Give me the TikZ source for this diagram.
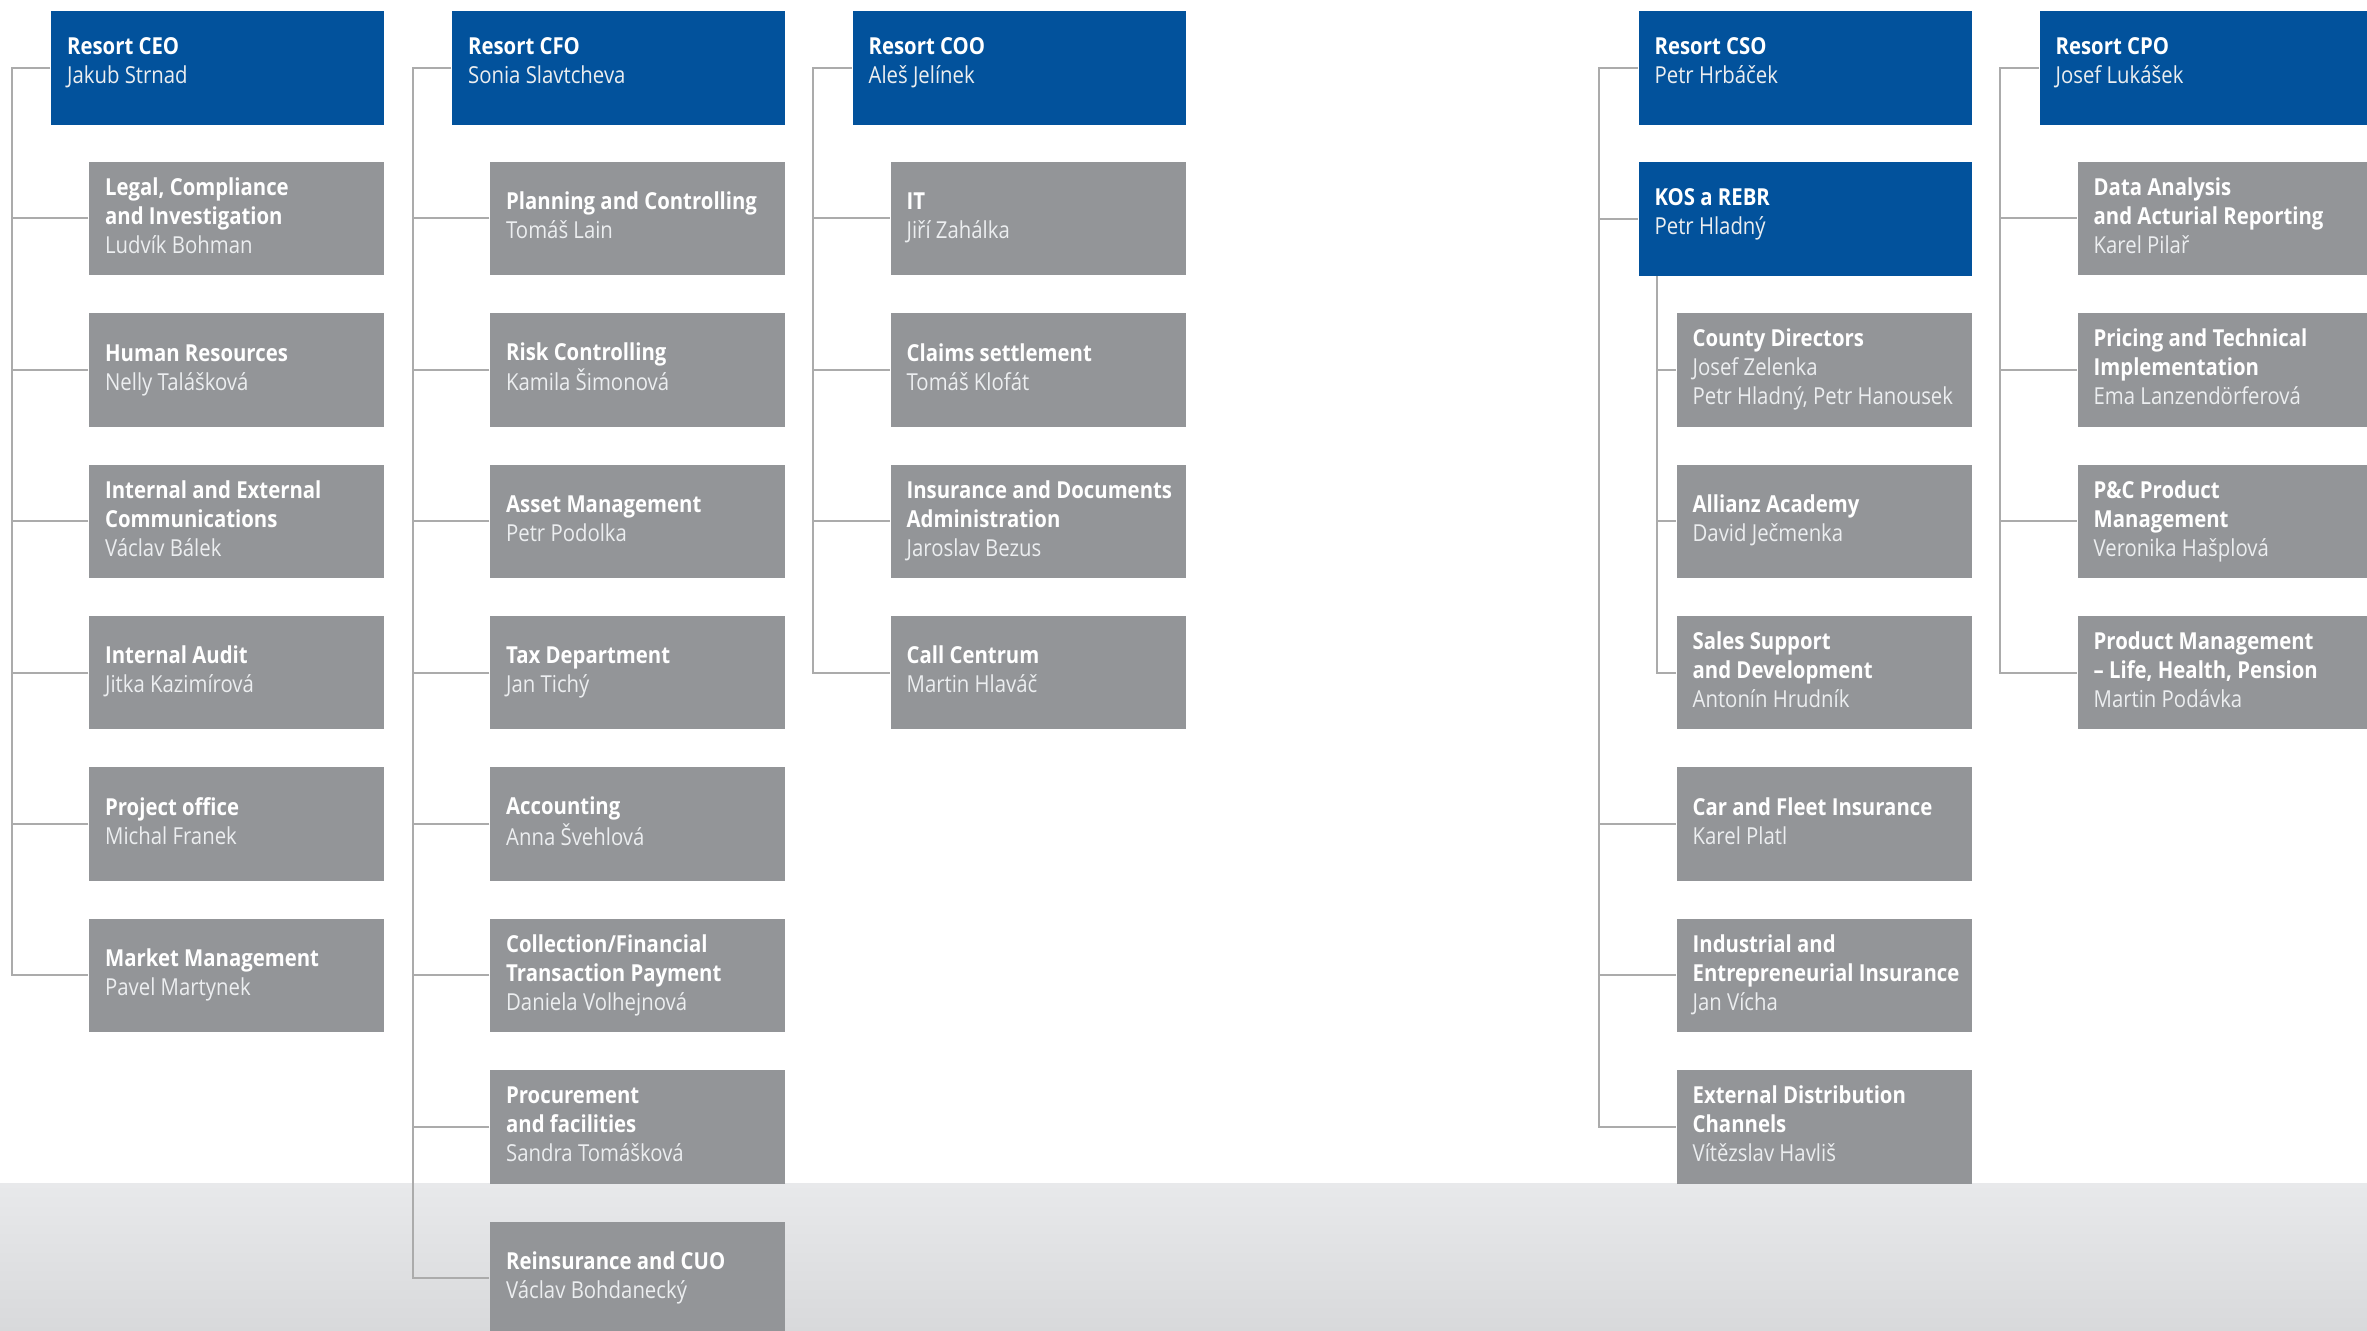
\documentclass[tikz,border=0pt]{standalone}
\usepackage{fontspec}
\setmainfont{Open Sans}[FakeStretch=0.87]
\definecolor{allblue}{HTML}{02529C}
\definecolor{boxgray}{HTML}{939598}
\definecolor{linegray}{HTML}{ABABAB}
\definecolor{namecol}{HTML}{ECEEF0}
\definecolor{bandtop}{HTML}{E8E9EB}
\definecolor{bandbot}{HTML}{D8D9DB}
\newcommand\pn[1]{{\color{namecol}#1}}
\newcommand\cell[1]{\makebox[2.63cm][l]{\begin{tabular}{@{}l@{}}#1\end{tabular}}}
\begin{document}
\begin{tikzpicture}[x=0.01cm,y=-0.01cm,
  txtfont/.style={font=\fontsize{6.65}{8.25}\selectfont},
  box/.style={rectangle, fill=boxgray, minimum width=2.95cm, minimum height=1.135cm,
    inner xsep=0.16cm, inner ysep=0pt, anchor=north east, txtfont, text=white},
  headbox/.style={rectangle, fill=allblue, minimum width=3.33cm, minimum height=1.14cm,
    inner sep=0pt, anchor=north east},
  headtxt/.style={inner sep=0pt, anchor=north west, align=left, txtfont, text=white},
  conn/.style={draw=linegray, line width=0.02cm}]
\useasboundingbox (0,0) rectangle (2367,1331);
\clip (0,0) rectangle (2367,1331);
\fill[white] (0,0) rectangle (2367,1331);
\shade[top color=bandtop, bottom color=bandbot] (0,1183) rectangle (2367,1331);

% ---------- CEO ----------
\node[headbox] (ceo) at (385,10) {};
\node[headtxt] (ceot) at ([xshift=0.16cm,yshift=-0.27cm]ceo.north west) {\textbf{Resort CEO}\\\pn{Jakub Strnad}};
\node[box] (ceo1) at (385,161) {\cell{\textbf{Legal, Compliance}\\\textbf{and Investigation}\\\pn{Ludvík Bohman}}};
\node[box] (ceo2) at (385,312.4) {\cell{\textbf{Human Resources}\\\pn{Nelly Talášková}}};
\node[box] (ceo3) at (385,463.8) {\cell{\textbf{Internal and External}\\\textbf{Communications}\\\pn{Václav Bálek}}};
\node[box] (ceo4) at (385,615.2) {\cell{\textbf{Internal Audit}\\\pn{Jitka Kazimírová}}};
\node[box] (ceo5) at (385,766.6) {\cell{\textbf{Project office}\\\pn{Michal Franek}}};
\node[box] (ceo6) at (385,918) {\cell{\textbf{Market Management}\\\pn{Pavel Martynek}}};
\coordinate (ceoV) at ([xshift=-0.385cm]ceo.west);
\draw[conn] (ceo.west) -- (ceoV) |- (ceo6.west);
\foreach \i in {1,...,5} \draw[conn] (ceo\i.west) -- (ceo\i.west -| ceoV);

% ---------- CFO ----------
\node[headbox] (cfo) at (786,10) {};
\node[headtxt] (cfot) at ([xshift=0.16cm,yshift=-0.27cm]cfo.north west) {\textbf{Resort CFO}\\\pn{Sonia Slavtcheva}};
\node[box] (cfo1) at (786,161) {\cell{\textbf{Planning and Controlling}\\\pn{Tomáš Lain}}};
\node[box] (cfo2) at (786,312.4) {\cell{\textbf{Risk Controlling}\\\pn{Kamila Šimonová}}};
\node[box] (cfo3) at (786,463.8) {\cell{\textbf{Asset Management}\\\pn{Petr Podolka}}};
\node[box] (cfo4) at (786,615.2) {\cell{\textbf{Tax Department}\\\pn{Jan Tichý}}};
\node[box] (cfo5) at (786,766.6) {\cell{\textbf{Accounting}\\\pn{Anna Švehlová}}};
\node[box] (cfo6) at (786,918) {\cell{\textbf{Collection/Financial}\\\textbf{Transaction Payment}\\\pn{Daniela Volhejnová}}};
\node[box] (cfo7) at (786,1069.4) {\cell{\textbf{Procurement}\\\textbf{and facilities}\\\pn{Sandra Tomášková}}};
\node[box] (cfo8) at (786,1220.8) {\cell{\textbf{Reinsurance and CUO}\\\pn{Václav Bohdanecký}}};
\coordinate (cfoV) at ([xshift=-0.385cm]cfo.west);
\draw[conn] (cfo.west) -- (cfoV) |- (cfo8.west);
\foreach \i in {1,...,7} \draw[conn] (cfo\i.west) -- (cfo\i.west -| cfoV);

% ---------- COO ----------
\node[headbox] (coo) at (1186.5,10) {};
\node[headtxt] (coot) at ([xshift=0.16cm,yshift=-0.27cm]coo.north west) {\textbf{Resort COO}\\\pn{Aleš Jelínek}};
\node[box] (coo1) at (1186.5,161) {\cell{\textbf{IT}\\\pn{Jiří Zahálka}}};
\node[box] (coo2) at (1186.5,312.4) {\cell{\textbf{Claims settlement}\\\pn{Tomáš Klofát}}};
\node[box] (coo3) at (1186.5,463.8) {\cell{\textbf{Insurance and Documents}\\\textbf{Administration}\\\pn{Jaroslav Bezus}}};
\node[box] (coo4) at (1186.5,615.2) {\cell{\textbf{Call Centrum}\\\pn{Martin Hlaváč}}};
\coordinate (cooV) at ([xshift=-0.385cm]coo.west);
\draw[conn] (coo.west) -- (cooV) |- (coo4.west);
\foreach \i in {1,...,3} \draw[conn] (coo\i.west) -- (coo\i.west -| cooV);

% ---------- CSO ----------
\node[headbox] (cso) at (1972.5,10) {};
\node[headtxt] (csot) at ([xshift=0.16cm,yshift=-0.27cm]cso.north west) {\textbf{Resort CSO}\\\pn{Petr Hrbáček}};
\node[headbox] (kos) at (1972.5,161) {};
\node[headtxt] (kost) at ([xshift=0.16cm,yshift=-0.27cm]kos.north west) {\textbf{KOS a REBR}\\\pn{Petr Hladný}};
\node[box] (cso1) at (1972.5,312.4) {\cell{\textbf{County Directors}\\\pn{Josef Zelenka}\\\pn{Petr Hladný, Petr Hanousek}}};
\node[box] (cso2) at (1972.5,463.8) {\cell{\textbf{Allianz Academy}\\\pn{David Ječmenka}}};
\node[box] (cso3) at (1972.5,615.2) {\cell{\textbf{Sales Support}\\\textbf{and Development}\\\pn{Antonín Hrudník}}};
\node[box] (cso4) at (1972.5,766.6) {\cell{\textbf{Car and Fleet Insurance}\\\pn{Karel Platl}}};
\node[box] (cso5) at (1972.5,918) {\cell{\textbf{Industrial and}\\\textbf{Entrepreneurial Insurance}\\\pn{Jan Vícha}}};
\node[box] (cso6) at (1972.5,1069.4) {\cell{\textbf{External Distribution}\\\textbf{Channels}\\\pn{Vítězslav Havliš}}};
\coordinate (csoV) at ([xshift=-0.385cm]cso.west);
\draw[conn] (cso.west) -- (csoV) |- (cso6.west);
\draw[conn] (kos.west) -- (kos.west -| csoV);
\foreach \i in {4,5} \draw[conn] (cso\i.west) -- (cso\i.west -| csoV);
\coordinate (kosV) at ([xshift=0.19cm]kos.south west);
\draw[conn] (kosV) |- (cso3.west);
\foreach \i in {1,2} \draw[conn] (cso\i.west) -- (cso\i.west -| kosV);

% ---------- CPO ----------
\node[headbox] (cpo) at (2373.5,10) {};
\node[headtxt] (cpot) at ([xshift=0.16cm,yshift=-0.27cm]cpo.north west) {\textbf{Resort CPO}\\\pn{Josef Lukášek}};
\node[box] (cpo1) at (2373.5,161) {\cell{\textbf{Data Analysis}\\\textbf{and Acturial Reporting}\\\pn{Karel Pilař}}};
\node[box] (cpo2) at (2373.5,312.4) {\cell{\textbf{Pricing and Technical}\\\textbf{Implementation}\\\pn{Ema Lanzendörferová}}};
\node[box] (cpo3) at (2373.5,463.8) {\cell{\textbf{P\&C Product}\\\textbf{Management}\\\pn{Veronika Hašplová}}};
\node[box] (cpo4) at (2373.5,615.2) {\cell{\textbf{Product Management}\\\textbf{– Life, Health, Pension}\\\pn{Martin Podávka}}};
\coordinate (cpoV) at ([xshift=-0.385cm]cpo.west);
\draw[conn] (cpo.west) -- (cpoV) |- (cpo4.west);
\foreach \i in {1,...,3} \draw[conn] (cpo\i.west) -- (cpo\i.west -| cpoV);
\end{tikzpicture}
\end{document}
